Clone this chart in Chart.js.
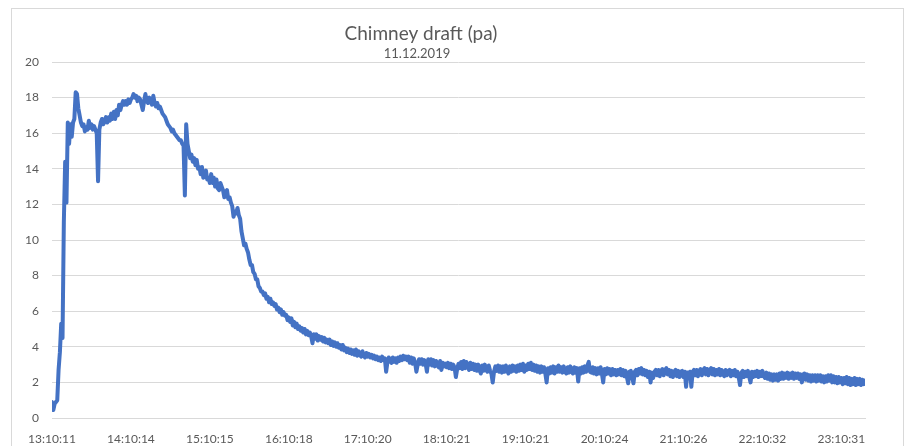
<!DOCTYPE html>
<html lang="en">
<head>
    <meta charset="UTF-8">
    <title>Chimney draft (pa)</title>
    <script src="https://cdn.jsdelivr.net/npm/chart.js"></script>
    <style>
        html, body {
            margin: 0;
            padding: 0;
            background: #ffffff;
            overflow: hidden;
        }
        .frame {
            position: absolute;
            left: 11px;
            top: 8px;
            width: 891px;
            height: 460px;
            border: 1px solid #d9d9d9;
        }
        #draftCanvas {
            position: absolute;
            left: 0;
            top: 0;
        }
    </style>
</head>
<body>
    <div class="frame"></div>
    <canvas id="draftCanvas" width="912" height="446"></canvas>

    <script>
        const chartTitle = "Chimney draft (pa)";
        const chartDate = "11.12.2019";

        // one reading per minute, starting at 13:10:11
        const draft = [
            0.9, 0.45, 0.8, 0.9, 1.0, 2.7, 3.7, 5.3, 4.5, 11.0,
            14.4, 12.1, 16.6, 15.4, 16.5, 15.8, 16.6, 16.8, 18.3, 18.2,
            17.4, 17.0, 16.6, 16.4, 16.5, 16.1, 16.3, 16.2, 16.7, 16.3,
            16.5, 16.2, 16.4, 16.2, 16.0, 13.3, 16.2, 16.6, 16.8, 16.5,
            16.7, 16.9, 16.6, 16.9, 16.7, 17.1, 16.8, 17.2, 16.8, 17.3,
            17.0, 17.6, 17.3, 17.6, 17.8, 17.6, 17.8, 17.6, 17.9, 17.7,
            17.9, 18.0, 18.2, 18.0, 18.1, 17.8, 18.0, 17.9, 17.6, 17.3,
            17.8, 18.2, 17.8, 17.7, 18.0, 17.8, 17.6, 18.1, 17.7, 17.5,
            17.7, 17.4, 17.5, 17.3, 17.1, 17.0, 16.9, 16.7, 16.5, 16.4,
            16.3, 16.1, 16.2, 16.0, 15.9, 15.8, 15.7, 15.6, 15.6, 15.4,
            15.3, 12.5, 16.5, 15.4, 15.0, 14.6, 14.8, 14.4, 14.6, 14.2,
            14.5, 14.0, 14.1, 13.7, 14.1, 13.5, 13.8, 13.9, 13.4, 13.5,
            13.2, 13.7, 13.2, 13.5, 13.0, 13.4, 12.9, 12.8, 13.2, 13.0,
            12.8, 12.4, 12.7, 12.8, 12.3, 12.4, 12.1, 11.9, 11.3, 11.6,
            11.5, 11.8, 11.4, 11.2, 10.5, 10.1, 9.7, 9.8, 9.5, 9.3,
            8.9, 8.6, 8.6, 8.2, 8.1, 7.8, 7.8, 7.4, 7.3, 7.1,
            7.1, 6.9, 7.0, 6.7, 6.8, 6.5, 6.7, 6.4, 6.5, 6.3,
            6.4, 6.1, 6.2, 5.95, 6.1, 5.8, 5.95, 5.75, 5.8, 5.5,
            5.65, 5.4, 5.6, 5.2, 5.4, 5.1, 5.3, 5.0, 5.15, 4.9,
            5.05, 4.8, 5.0, 4.7, 4.9, 4.65, 4.8, 4.6, 4.2, 4.7,
            4.45, 4.7, 4.35, 4.6, 4.4, 4.55, 4.3, 4.5, 4.25, 4.4,
            4.2, 4.4, 4.1, 4.3, 4.05, 4.25, 4.0, 4.2, 3.95, 4.1,
            3.85, 4.1, 3.8, 3.95, 3.7, 3.9, 3.65, 3.85, 3.6, 3.8,
            3.55, 3.85, 3.5, 3.75, 3.55, 3.45, 3.75, 3.5, 3.4, 3.65,
            3.45, 3.6, 3.4, 3.55, 3.35, 3.5, 3.3, 3.45, 3.25, 3.4,
            3.2, 3.45, 3.25, 3.35, 2.6, 3.15, 3.4, 3.2, 3.1, 3.4,
            3.15, 3.35, 3.1, 3.4, 3.2, 3.45, 3.25, 3.5, 3.3, 3.45,
            3.25, 3.45, 3.1, 3.4, 3.05, 3.35, 3.1, 2.6, 3.0, 3.3,
            3.05, 3.3, 3.0, 3.25, 3.05, 2.6, 3.3, 3.0, 3.3, 2.95,
            3.25, 2.9, 3.2, 2.95, 2.85, 3.2, 2.7, 3.1, 2.9, 3.05,
            2.85, 3.1, 2.8, 3.05, 2.75, 3.0, 2.85, 2.3, 2.75, 3.05,
            2.8, 3.15, 2.75, 3.2, 2.8, 3.15, 2.85, 2.7, 3.1, 2.75,
            3.05, 2.7, 3.0, 2.65, 3.0, 2.7, 2.5, 2.95, 2.65, 3.0,
            2.7, 2.6, 2.95, 2.65, 2.5, 2.0, 2.6, 2.9, 2.65, 2.95,
            2.6, 2.9, 2.55, 2.9, 2.6, 2.95, 2.65, 2.5, 2.9, 2.6,
            2.95, 2.65, 2.9, 2.6, 2.95, 2.65, 3.0, 2.7, 3.05, 2.6,
            2.95, 2.7, 3.05, 2.75, 3.1, 2.7, 3.0, 2.65, 2.95, 2.6,
            2.9, 2.55, 2.9, 2.6, 2.85, 2.5, 2.0, 2.8, 2.5, 2.85,
            2.55, 2.9, 2.5, 2.85, 2.6, 2.95, 2.6, 2.85, 2.55, 2.9,
            2.6, 2.5, 2.85, 2.55, 2.9, 2.6, 2.5, 2.85, 2.55, 2.8,
            2.05, 2.8, 2.5, 2.85, 2.55, 2.9, 2.6, 2.95, 3.15, 2.6,
            2.55, 2.85, 2.5, 2.8, 2.45, 2.8, 2.5, 2.85, 2.5, 2.0,
            2.75, 2.45, 2.8, 2.5, 2.75, 2.4, 2.75, 2.45, 2.7, 2.4,
            2.7, 2.45, 2.75, 2.4, 2.7, 2.35, 2.65, 2.3, 1.95, 2.6,
            2.65, 2.3, 1.95, 2.6, 2.7, 2.4, 2.75, 2.5, 2.8, 2.45,
            2.7, 2.4, 2.65, 2.3, 2.6, 2.0, 2.55, 2.25, 2.6, 2.7,
            2.4, 2.7, 2.35, 2.65, 2.75, 2.4, 2.7, 2.8, 2.45, 2.7,
            2.35, 2.65, 2.3, 2.6, 2.7, 2.35, 2.65, 2.3, 2.6, 2.65,
            2.3, 2.6, 1.75, 2.55, 2.4, 2.6, 1.75, 2.6, 2.7, 2.4,
            2.7, 2.35, 2.65, 2.75, 2.4, 2.7, 2.8, 2.45, 2.75, 2.4,
            2.7, 2.8, 2.45, 2.75, 2.4, 2.7, 2.45, 2.75, 2.4, 2.7,
            2.45, 2.35, 2.7, 2.4, 2.65, 2.7, 2.35, 2.65, 2.4, 2.7,
            2.35, 2.6, 2.3, 1.85, 2.55, 2.65, 2.3, 2.6, 2.35, 2.65,
            2.3, 2.0, 2.6, 2.3, 2.6, 2.35, 2.65, 2.3, 2.6, 2.35,
            2.65, 2.35, 2.25, 2.55, 2.2, 2.5, 2.15, 2.45, 2.1, 2.45,
            2.15, 2.45, 2.1, 2.5, 2.2, 2.55, 2.2, 2.5, 2.25, 2.55,
            2.2, 2.5, 2.25, 2.55, 2.2, 2.5, 2.25, 2.5, 2.2, 2.45,
            2.0, 2.45, 2.5, 2.15, 2.45, 2.1, 2.4, 2.05, 2.4, 2.1,
            2.4, 2.05, 2.4, 2.1, 2.4, 2.05, 2.35, 2.0, 2.35, 2.05,
            2.4, 2.1, 2.4, 2.0, 2.35, 2.0, 2.3, 1.95, 2.3, 2.0,
            2.25, 1.9, 2.25, 1.95, 2.3, 1.9, 2.25, 1.85, 2.2, 1.9,
            2.25, 1.85, 2.2, 1.9, 2.2, 1.85, 2.15, 1.9, 2.1
        ];

        // labelled readings on the time axis (minute index -> clock time)
        const tickMinutes = [0, 60, 120, 180, 240, 300, 360, 420, 480, 540, 600];
        const tickLabels = ["13:10:11", "14:10:14", "15:10:15", "16:10:18", "17:10:20",
            "18:10:21", "19:10:21", "20:10:24", "21:10:26", "22:10:32", "23:10:31"];

        const axisFont = { family: "Lato, 'Open Sans', sans-serif", size: 12 };
        const textColor = "#595959";
        const gridColor = "#d9d9d9";

        // title + date drawn above the plot
        const headerPlugin = {
            id: "header",
            afterDraw(chart) {
                const ctx = chart.ctx;
                ctx.save();
                ctx.fillStyle = textColor;
                ctx.textAlign = "center";
                ctx.textBaseline = "alphabetic";
                ctx.font = "19px Lato, 'Open Sans', sans-serif";
                ctx.fillText(chartTitle, 421, 40);
                ctx.font = "13px Lato, 'Open Sans', sans-serif";
                ctx.fillText(chartDate, 417, 58);
                ctx.restore();
            }
        };

        const draftChart = new Chart(document.getElementById("draftCanvas"), {
            type: "line",
            data: {
                datasets: [{
                    data: draft.map((v, i) => ({ x: i, y: v })),
                    borderColor: "#4472c4",
                    borderWidth: 4,
                    pointRadius: 0,
                    tension: 0,
                    borderJoinStyle: "round",
                    borderCapStyle: "round"
                }]
            },
            options: {
                responsive: false,
                animation: false,
                layout: {
                    padding: { left: 12, right: 47, top: 62, bottom: 0 }
                },
                plugins: {
                    legend: { display: false },
                    tooltip: { enabled: false }
                },
                scales: {
                    x: {
                        type: "linear",
                        min: 0,
                        max: draft.length - 1,
                        afterBuildTicks: (scale) => {
                            scale.ticks = tickMinutes.map(v => ({ value: v }));
                        },
                        afterFit: (scale) => { scale.height = 28; },
                        ticks: {
                            autoSkip: false,
                            maxRotation: 0,
                            padding: 6,
                            color: textColor,
                            font: axisFont,
                            callback: (value) => tickLabels[tickMinutes.indexOf(value)]
                        },
                        grid: { display: false },
                        border: { color: gridColor, width: 1 }
                    },
                    y: {
                        min: 0,
                        max: 20,
                        afterFit: (scale) => { scale.width = 40; },
                        ticks: {
                            stepSize: 2,
                            padding: 13,
                            color: textColor,
                            font: axisFont
                        },
                        grid: {
                            color: gridColor,
                            drawTicks: false
                        },
                        border: { display: false }
                    }
                }
            },
            plugins: [headerPlugin]
        });
    </script>
</body>
</html>
